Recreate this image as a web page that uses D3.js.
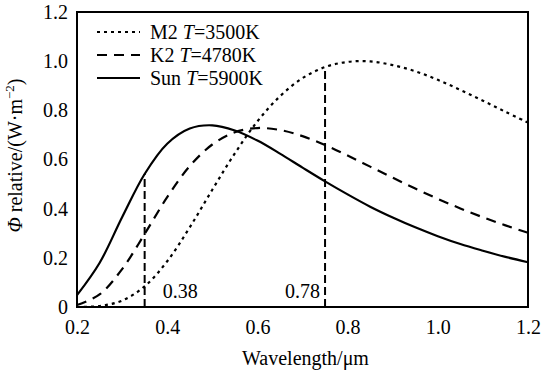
<!DOCTYPE html>
<html>
<head>
<meta charset="utf-8">
<script src="https://cdn.jsdelivr.net/npm/d3@7"></script>
<style>
  body { margin: 0; background: #fff; }
  svg text { font-family: "Times New Roman", "Liberation Serif", Times, "DejaVu Serif", serif; fill: #000; }
</style>
</head>
<body>
<script>
/*
  Relative spectral curves of three stars
*/

// wavelength in um
var wavelength = [0.20, 0.25, 0.30, 0.35, 0.40, 0.45, 0.50, 0.55, 0.60, 0.65, 0.70,
                  0.75, 0.80, 0.85, 0.90, 0.95, 1.00, 1.05, 1.10, 1.15, 1.20];

var m2Values  = [0.000, 0.004, 0.026, 0.084, 0.186, 0.324, 0.477, 0.625, 0.755, 0.857, 0.931,
                 0.976, 0.997, 0.999, 0.984, 0.959, 0.924, 0.883, 0.839, 0.794, 0.750];
var k2Values  = [0.008, 0.051, 0.154, 0.297, 0.447, 0.573, 0.661, 0.711, 0.728, 0.720, 0.695,
                 0.659, 0.616, 0.571, 0.526, 0.482, 0.440, 0.401, 0.365, 0.332, 0.302];
var sunValues = [0.048, 0.179, 0.365, 0.541, 0.664, 0.726, 0.739, 0.718, 0.677, 0.624, 0.567,
                 0.511, 0.458, 0.408, 0.364, 0.324, 0.288, 0.256, 0.229, 0.204, 0.182];

var seriesNames = ["M2", "K2", "Sun"];
var seriesTemps = ["3500K", "4780K", "5900K"];

// vertical marker lines: where they stand and what they say
var markerAt = [0.35, 0.75];
var markerLabels = ["0.38", "0.78"];
var markerSeries = [2, 0]; // which curve the line runs up to

var xTicks = [0.2, 0.4, 0.6, 0.8, 1.0, 1.2];
var yTicks = [0, 0.2, 0.4, 0.6, 0.8, 1.0, 1.2];

var serif = "'Times New Roman', 'Liberation Serif', Times, 'DejaVu Serif', serif";

window.onload = function() {
  var allValues = [m2Values, k2Values, sunValues];
  var dashes = ["3,4", "10,7", null];

  var margin = {top: 12, right: 17, bottom: 69, left: 77},
      width = 545 - margin.left - margin.right,
      height = 376 - margin.top - margin.bottom;

  var svg = d3.select("body").append("svg")
      .attr("width", 545)
      .attr("height", 376)
      .attr("font-family", serif)
    .append("g")
      .attr("transform", "translate(" + margin.left + "," + margin.top + ")");

  var x = d3.scaleLinear().domain([0.2, 1.2]).range([0, width]);
  var y = d3.scaleLinear().domain([0, 1.2]).range([height, 0]);

  // x axis labels, no tick marks
  var xAxis = d3.axisBottom(x).tickValues(xTicks).tickSize(0).tickPadding(13)
      .tickFormat(d3.format(".1f"));
  svg.append("g")
      .attr("transform", "translate(0," + height + ")")
      .call(xAxis)
      .attr("font-family", serif)
      .attr("font-size", 20)
      .call(function(g) { g.select(".domain").remove(); });

  // y axis labels
  var yAxis = d3.axisLeft(y).tickValues(yTicks).tickSize(0).tickPadding(9)
      .tickFormat(function(d) { return d == 0 ? "0" : d3.format(".1f")(d); });
  svg.append("g")
      .call(yAxis)
      .attr("font-family", serif)
      .attr("font-size", 20)
      .call(function(g) { g.select(".domain").remove(); });

  // the curves
  var line = d3.line()
      .x(function(d, i) { return x(wavelength[i]); })
      .y(function(d) { return y(d); })
      .curve(d3.curveCatmullRom);

  allValues.forEach(function(vals, k) {
    svg.append("path")
        .attr("d", line(vals))
        .attr("fill", "none")
        .attr("stroke", "#000")
        .attr("stroke-width", 2.2)
        .attr("stroke-dasharray", dashes[k]);
  });

  // dashed markers at the edges of visible light
  markerAt.forEach(function(m, i) {
    var vals = allValues[markerSeries[i]];
    var top = vals[wavelength.indexOf(m)];
    svg.append("line")
        .attr("x1", x(m)).attr("x2", x(m))
        .attr("y1", y(0)).attr("y2", y(top))
        .attr("stroke", "#000")
        .attr("stroke-width", 2)
        .attr("stroke-dasharray", "8,4");
  });

  svg.append("text")
      .attr("x", x(markerAt[0]) + 18)
      .attr("y", y(0) - 9)
      .style("font-size", "20px")
      .text(markerLabels[0]);
  svg.append("text")
      .attr("x", x(markerAt[1]) - 5)
      .attr("y", y(0) - 9)
      .attr("text-anchor", "end")
      .style("font-size", "20px")
      .text(markerLabels[1]);

  // frame
  svg.append("rect")
      .attr("width", width)
      .attr("height", height)
      .attr("fill", "none")
      .attr("stroke", "#000")
      .attr("stroke-width", 2);

  // legend
  var legend = svg.selectAll(".legend")
      .data(seriesNames)
    .enter().append("g")
      .attr("class", "legend")
      .attr("transform", function(d, i) { return "translate(20," + (20 + i * 23) + ")"; });

  legend.append("line")
      .attr("x1", 0).attr("x2", 43)
      .attr("stroke", "#000")
      .attr("stroke-width", 2.2)
      .attr("stroke-dasharray", function(d, i) { return dashes[i]; });

  var legendText = legend.append("text")
      .attr("x", 53)
      .attr("y", 6.5)
      .style("font-size", "20px");
  legendText.append("tspan").text(function(d) { return d + " "; });
  legendText.append("tspan").style("font-style", "italic").text("T");
  legendText.append("tspan").text(function(d, i) { return "=" + seriesTemps[i]; });

  // axis titles
  svg.append("text")
      .attr("x", width / 2 + 3)
      .attr("y", height + 58)
      .attr("text-anchor", "middle")
      .style("font-size", "20px")
      .text("Wavelength/\u03bcm");

  var yTitle = svg.append("text")
      .attr("transform", "translate(-55," + (height / 2 - 4) + ") rotate(-90)")
      .attr("text-anchor", "middle")
      .style("font-size", "20px");
  yTitle.append("tspan").style("font-style", "italic").text("\u03a6");
  yTitle.append("tspan").text(" relative/(W\u00b7m");
  yTitle.append("tspan").attr("dy", -8).style("font-size", "13px").text("\u22122");
  yTitle.append("tspan").attr("dy", 8).text(")");
};
</script>
</body>
</html>
